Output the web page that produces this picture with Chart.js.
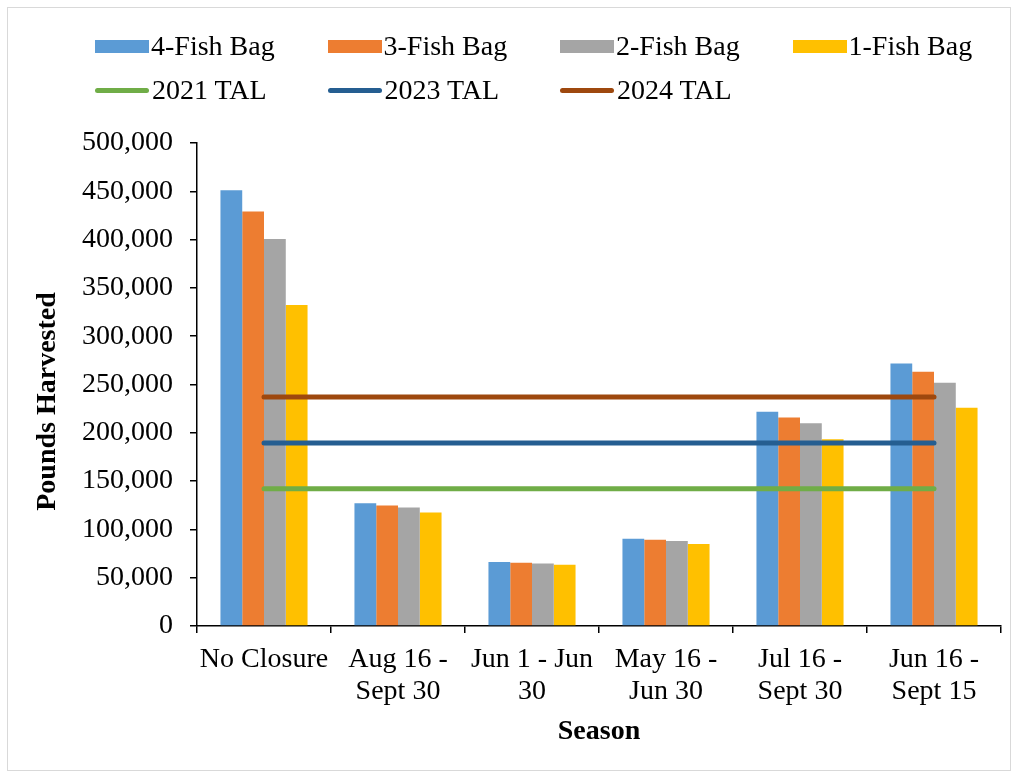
<!DOCTYPE html>
<html>
<head>
<meta charset="utf-8">
<script src="https://cdn.jsdelivr.net/npm/chart.js@4.4.1/dist/chart.umd.min.js"></script>
<style>
  html, body { margin: 0; padding: 0; background: #fff; }
  #wrap { position: relative; width: 1014px; height: 773px; }
  #frame { position: absolute; left: 7px; top: 7px; width: 1002px; height: 762px; border: 1px solid #d9d9d9; pointer-events: none; }
  #legend {
    position: absolute; left: 95px; top: 24px;
    display: grid; grid-template-columns: repeat(4, 232.5px); grid-auto-rows: 44px;
    font-family: "Times New Roman", "Liberation Serif", serif; font-size: 28px; color: #000;
  }
  .item { display: flex; align-items: center; white-space: nowrap; }
  .box { width: 54px; height: 13px; margin-right: 2px; }
  .line { width: 54px; height: 5px; border-radius: 3px; margin-right: 3px; }
</style>
</head>
<body>
<div id="wrap">
  <canvas id="chart" width="1014" height="773"></canvas>
  <div id="legend"></div>
  <div id="frame"></div>
</div>
<script>
// season categories (multi-line labels)
const seasons = [
  "No Closure",
  ["Aug 16 -", "Sept 30"],
  ["Jun 1 - Jun", "30"],
  ["May 16 -", "Jun 30"],
  ["Jul 16 -", "Sept 30"],
  ["Jun 16 -", "Sept 15"]
];

// pounds harvested by bag limit
const bag4 = [451000, 127000, 66200, 90300, 221700, 271700];
const bag3 = [429000, 124800, 65500, 89300, 215900, 263100];
const bag2 = [400700, 122800, 64800, 87900, 210000, 251700];
const bag1 = [332400, 117600, 63400, 84800, 193400, 225900];

// total allowable landings
const tal2021 = [142000, 142000, 142000, 142000, 142000, 142000];
const tal2023 = [189500, 189500, 189500, 189500, 189500, 189500];
const tal2024 = [237000, 237000, 237000, 237000, 237000, 237000];

const barNames = ["4-Fish Bag", "3-Fish Bag", "2-Fish Bag", "1-Fish Bag"];
const barColors = ["#5B9BD5", "#ED7D31", "#A5A5A5", "#FFC000"];
const talNames = ["2021 TAL", "2023 TAL", "2024 TAL"];
const talColors = ["#70AD47", "#255E91", "#9E480E"];

const yTitle = "Pounds Harvested";
const xTitle = "Season";

const fontFamily = '"Times New Roman", "Liberation Serif", serif';
const tickFont = { family: fontFamily, size: 28, lineHeight: 1.125 };
const titleFont = { family: fontFamily, size: 28, weight: "bold" };

const barSeries = [bag4, bag3, bag2, bag1];
const talSeries = [tal2021, tal2023, tal2024];

const datasets = [];
barSeries.forEach((d, i) => {
  datasets.push({
    type: "bar",
    label: barNames[i],
    data: d,
    backgroundColor: barColors[i],
    order: 2,
    barPercentage: 1.0,
    categoryPercentage: 0.65
  });
});
talSeries.forEach((d, i) => {
  datasets.push({
    type: "line",
    label: talNames[i],
    data: d,
    borderColor: talColors[i],
    backgroundColor: talColors[i],
    borderWidth: 5,
    borderCapStyle: "round",
    pointRadius: 0,
    fill: false,
    order: 1
  });
});

// legend as a 4-column grid like the original
const legendEl = document.getElementById("legend");
barNames.forEach((name, i) => {
  legendEl.insertAdjacentHTML("beforeend",
    `<div class="item"><span class="box" style="background:${barColors[i]}"></span>${name}</div>`);
});
talNames.forEach((name, i) => {
  legendEl.insertAdjacentHTML("beforeend",
    `<div class="item"><span class="line" style="background:${talColors[i]}"></span>${name}</div>`);
});

// y title is centred a bit lower than the plot area in the original
const yTitlePlugin = {
  id: "yTitle",
  afterDraw(chart) {
    const s = chart.scales.y;
    const c = chart.ctx;
    c.save();
    c.translate(s.left + 48, (s.top + s.bottom) / 2 + 17);
    c.rotate(-Math.PI / 2);
    c.font = "bold 28px " + fontFamily;
    c.fillStyle = "#000";
    c.textAlign = "center";
    c.textBaseline = "middle";
    c.fillText(yTitle, 0, 0);
    c.restore();
  }
};

const ctx = document.getElementById("chart").getContext("2d");
const chart = new Chart(ctx, {
  data: { labels: seasons, datasets: datasets },
  options: {
    responsive: false,
    animation: false,
    layout: { padding: { top: 143, right: 13, left: 0, bottom: 0 } },
    plugins: {
      legend: { display: false },
      tooltip: { enabled: false }
    },
    scales: {
      x: {
        grid: { drawOnChartArea: false, drawTicks: true, tickLength: 7, color: "#000", lineWidth: 1.5, offset: true },
        border: { color: "#000", width: 1.5 },
        ticks: { color: "#000", font: tickFont, padding: 11, maxRotation: 0, autoSkip: false },
        title: { display: true, text: xTitle, color: "#000", font: titleFont, padding: { top: 0, bottom: 24 } },
        afterFit: (scale) => { scale.height = 147; }
      },
      y: {
        min: 0,
        max: 500000,
        grid: { drawOnChartArea: false, drawTicks: true, tickLength: 7, color: "#000", lineWidth: 1.5 },
        border: { color: "#000", width: 1.5 },
        ticks: {
          stepSize: 50000,
          color: "#000",
          font: tickFont,
          padding: 17,
          callback: (v) => v.toLocaleString("en-US")
        },
        title: { display: false },
        afterFit: (scale) => { scale.width = 197; }
      }
    }
  },
  plugins: [yTitlePlugin]
});
</script>
</body>
</html>
